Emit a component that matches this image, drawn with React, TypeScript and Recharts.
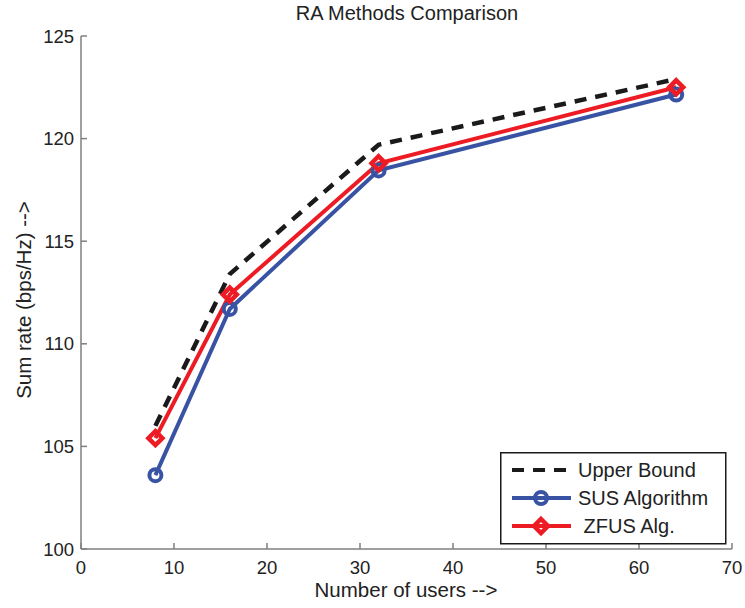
import React from 'react';
import { LineChart, Line, XAxis, YAxis } from 'recharts';

const users = [8, 16, 32, 64];
const upperBound = [106.0, 113.4, 119.7, 122.9];
const susAlgorithm = [103.6, 111.7, 118.45, 122.15];
const zfusAlg = [105.4, 112.4, 118.8, 122.5];
const xTicks = [0, 10, 20, 30, 40, 50, 60, 70];
const yTicks = [100, 105, 110, 115, 120, 125];
const seriesNames = ['Upper Bound', 'SUS Algorithm', ' ZFUS Alg.'];
const titleText = 'RA Methods Comparison';
const xLabel = 'Number of users -->';
const yLabel = 'Sum rate (bps/Hz) -->';

const BLUE = '#3953a4';
const RED = '#ed1c24';
const BLACK = '#1a1a1a';
const AXIS = '#7f7f7f';
const TEXT = '#222222';
const FONT = '"Liberation Sans", Arial, Helvetica, sans-serif';

const data = users.map((u, i) => ({
  users: u,
  upper: upperBound[i],
  sus: susAlgorithm[i],
  zfus: zfusAlg[i],
}));

const CircleDot = (p: any) => {
  if (p.cx == null || p.cy == null) return <g key={`c${p.index}`} />;
  return (
    <circle key={`c${p.index}`} cx={p.cx} cy={p.cy} r={6} fill="none" stroke={BLUE} strokeWidth={4} />
  );
};

const DiamondDot = (p: any) => {
  if (p.cx == null || p.cy == null) return <g key={`d${p.index}`} />;
  const { cx, cy } = p;
  const h = 7;
  return (
    <path
      key={`d${p.index}`}
      d={`M${cx},${cy - h} L${cx + h},${cy} L${cx},${cy + h} L${cx - h},${cy} Z`}
      fill="none"
      stroke={RED}
      strokeWidth={4.5}
      strokeLinejoin="miter"
    />
  );
};

const LegendBox = () => {
  const rows = [18, 46, 74];
  const x1 = 12;
  const x2 = 71;
  const mx = 41;
  return (
    <svg width={227} height={93} style={{ display: 'block', overflow: 'visible' }}>
      <rect x={0.75} y={0.75} width={225} height={91} fill="#ffffff" stroke={BLACK} strokeWidth={1.5} />
      <line x1={x1} y1={rows[0]} x2={x2} y2={rows[0]} stroke={BLACK} strokeWidth={4} strokeDasharray="12 9" />
      <line x1={x1} y1={rows[1]} x2={x2} y2={rows[1]} stroke={BLUE} strokeWidth={4} />
      <circle cx={mx} cy={rows[1]} r={6} fill="none" stroke={BLUE} strokeWidth={4} />
      <line x1={x1} y1={rows[2]} x2={x2} y2={rows[2]} stroke={RED} strokeWidth={4} />
      <path
        d={`M${mx},${rows[2] - 7} L${mx + 7},${rows[2]} L${mx},${rows[2] + 7} L${mx - 7},${rows[2]} Z`}
        fill="none"
        stroke={RED}
        strokeWidth={4.5}
      />
      {seriesNames.map((n, i) => (
        <text
          key={n}
          x={78}
          y={rows[i] + 7}
          fontSize={20}
          fontFamily={FONT}
          fill={TEXT}
          style={{ whiteSpace: 'pre' }}
          xmlSpace="preserve"
        >
          {n}
        </text>
      ))}
    </svg>
  );
};

export default function App() {
  return (
    <div style={{ position: 'absolute', left: 0, top: 0, width: 745, height: 608, background: '#fff' }}>
      <LineChart
        width={745}
        height={608}
        data={data}
        margin={{ top: 36, right: 13, bottom: 0, left: 0 }}
        style={{ fontFamily: FONT }}
      >
        <XAxis
          dataKey="users"
          type="number"
          domain={[0, 70]}
          ticks={xTicks}
          interval={0}
          height={59}
          tickSize={-6}
          tickMargin={18}
          axisLine={{ stroke: AXIS, strokeWidth: 1.5 }}
          tickLine={{ stroke: AXIS, strokeWidth: 1.5 }}
          tick={{ fill: TEXT, fontSize: 18.5, fontFamily: FONT }}
        />
        <YAxis
          type="number"
          domain={[100, 125]}
          ticks={yTicks}
          interval={0}
          width={81}
          tickSize={-6}
          tickMargin={13}
          axisLine={{ stroke: AXIS, strokeWidth: 1.5 }}
          tickLine={{ stroke: AXIS, strokeWidth: 1.5 }}
          tick={{ fill: TEXT, fontSize: 18.5, fontFamily: FONT }}
        />
        <Line
          dataKey="upper"
          name={seriesNames[0]}
          type="linear"
          stroke={BLACK}
          strokeWidth={4.5}
          strokeDasharray="12 9"
          dot={false}
          activeDot={false}
          isAnimationActive={false}
        />
        <Line
          dataKey="sus"
          name={seriesNames[1]}
          type="linear"
          stroke={BLUE}
          strokeWidth={4}
          dot={CircleDot}
          activeDot={false}
          isAnimationActive={false}
        />
        <Line
          dataKey="zfus"
          name={seriesNames[2]}
          type="linear"
          stroke={RED}
          strokeWidth={4}
          dot={DiamondDot}
          activeDot={false}
          isAnimationActive={false}
        />
        <text x={407} y={20} textAnchor="middle" fontSize={20} fontFamily={FONT} fill={TEXT}>
          {titleText}
        </text>
        <text x={406} y={597} textAnchor="middle" fontSize={20.5} fontFamily={FONT} fill={TEXT}>
          {xLabel}
        </text>
        <text
          x={31}
          y={300}
          textAnchor="middle"
          fontSize={20.5}
          fontFamily={FONT}
          fill={TEXT}
          transform="rotate(-90 31 300)"
        >
          {yLabel}
        </text>
      </LineChart>
      <div style={{ position: 'absolute', left: 500, top: 452, width: 227, height: 93 }}>
        <LegendBox />
      </div>
    </div>
  );
}
